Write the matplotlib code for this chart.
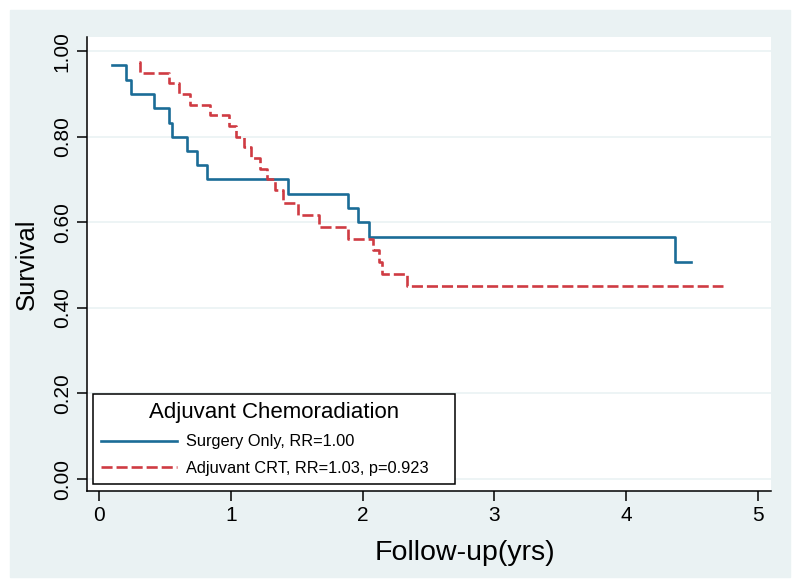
import numpy as np
import matplotlib.pyplot as plt
from matplotlib.patches import Rectangle

plt.rcParams['font.family'] = ['Liberation Sans', 'DejaVu Sans']

# Kaplan-Meier steps (years, survival)
surgery_t = [0.096, 0.203, 0.240, 0.418, 0.534, 0.552, 0.670, 0.747, 0.817,
             1.437, 1.893, 1.969, 2.052, 4.374, 4.493]
surgery_s = [0.967, 0.933, 0.900, 0.867, 0.833, 0.800, 0.767, 0.733, 0.700,
             0.667, 0.633, 0.600, 0.565, 0.508, 0.508]

crt_t = [0.302, 0.308, 0.534, 0.610, 0.691, 0.843, 0.989, 1.038, 1.101, 1.154,
         1.222, 1.278, 1.336, 1.395, 1.514, 1.670, 1.893, 2.080, 2.125, 2.145,
         2.336, 4.736]
crt_s = [0.975, 0.950, 0.925, 0.900, 0.875, 0.850, 0.825, 0.800, 0.775, 0.750,
         0.725, 0.700, 0.675, 0.645, 0.618, 0.590, 0.562, 0.535, 0.507, 0.479,
         0.450, 0.450]

labels = ['Surgery Only, RR=1.00', 'Adjuvant CRT, RR=1.03, p=0.923']
xticks = [0, 1, 2, 3, 4, 5]
yticks = [0.0, 0.2, 0.4, 0.6, 0.8, 1.0]

bg = '#eaf2f3'
blue = '#1b6c97'
red = '#cf3b43'

fig = plt.figure(figsize=(8, 5.88), dpi=100, facecolor='white')
fig.patches.append(Rectangle((10 / 800, 11 / 588), 780 / 800, 567 / 588,
                             transform=fig.transFigure, color=bg, zorder=-1))
ax = fig.add_axes([87 / 800, 97 / 588, 684 / 800, 454 / 588])
ax.set_facecolor('white')

ax.plot(surgery_t, surgery_s, drawstyle='steps-post', color=blue, lw=1.9,
        label=labels[0])
ax.plot(crt_t, crt_s, drawstyle='steps-post', color=red, lw=1.9,
        dashes=(4.2, 1.5), label=labels[1])

ax.set_xlim(-0.091, 5.10)
ax.set_ylim(-0.028, 1.033)
ax.set_xticks(xticks)
ax.set_yticks(yticks)
ax.set_yticklabels([f'{v:.2f}' for v in yticks], rotation=90, va='center')
ax.tick_params(labelsize=15, length=7, width=1.1, pad=4)
ax.grid(axis='y', color=bg, lw=1.2)
ax.set_axisbelow(True)

for s in ['top', 'right']:
    ax.spines[s].set_visible(False)
for s in ['left', 'bottom']:
    ax.spines[s].set_linewidth(1.1)

ax.set_ylabel('Survival', fontsize=18.5)
ax.yaxis.set_label_coords(-0.07, 0.5)
ax.set_xlabel('Follow-up(yrs)', fontsize=20.5)
ax.xaxis.set_label_coords(0.553, -0.107)

leg = ax.legend(loc='lower left', bbox_to_anchor=(0.0088, 0.0154, 0.529, 0.2),
                mode='expand', borderaxespad=0, title='Adjuvant Chemoradiation',
                title_fontsize=16, fontsize=11.8, fancybox=False,
                edgecolor='black', framealpha=1, handlelength=4.6,
                handletextpad=0.6, labelspacing=0.7, borderpad=0.5)
leg.get_frame().set_linewidth(1.1)

fig.savefig('out.png', dpi=100)
